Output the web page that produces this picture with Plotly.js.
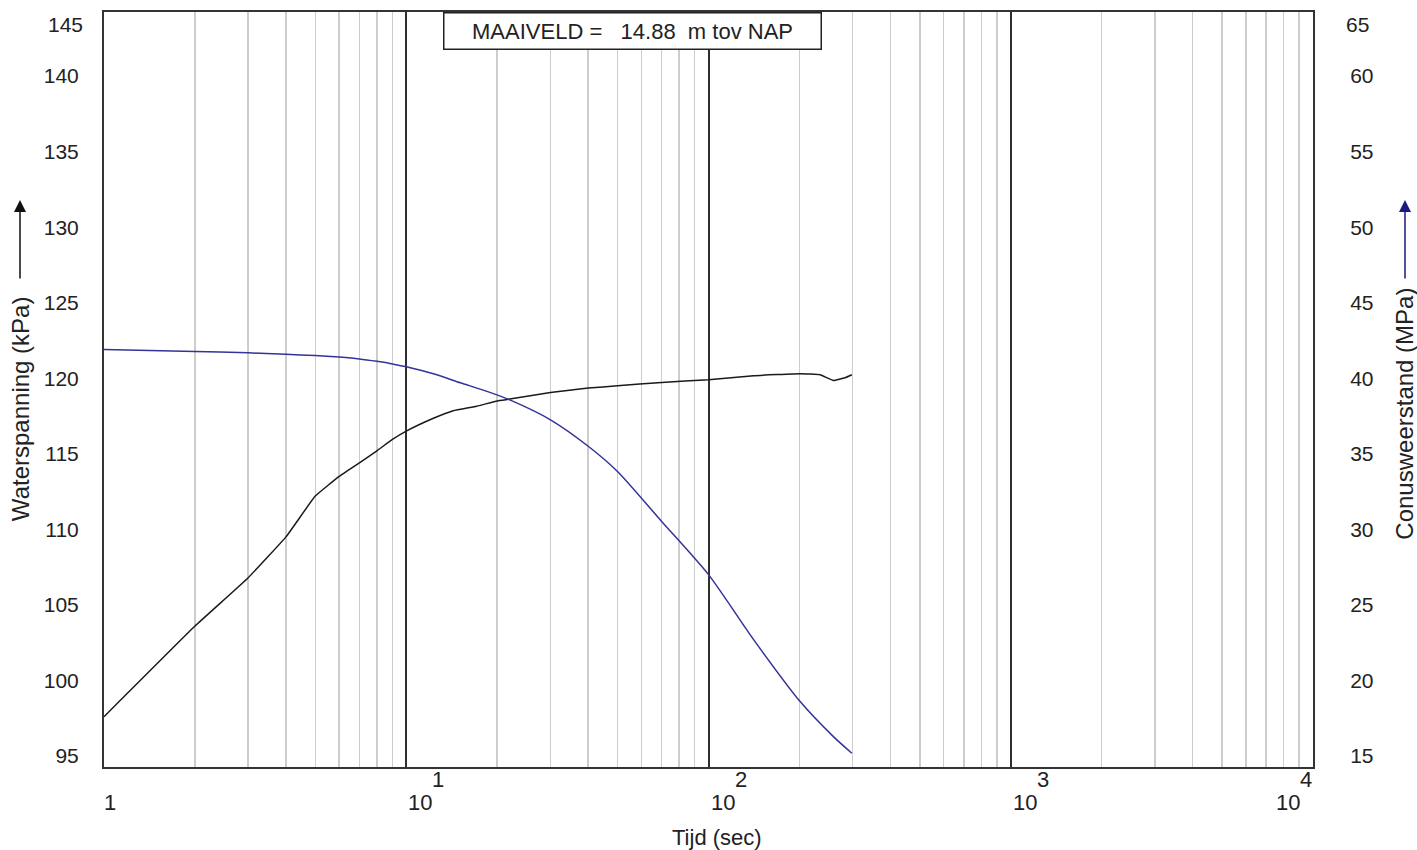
<!DOCTYPE html>
<html>
<head>
<meta charset="utf-8">
<script src="https://cdn.plot.ly/plotly-3.0.1.min.js"></script>
<style>html,body{margin:0;padding:0;background:#fff;}#chart{width:1417px;height:850px;}</style>
</head>
<body>
<div id="chart"></div>
<script>
// ---- data ----
const timeBlack = [1, 2, 3, 4, 5, 6, 7, 8, 9, 10, 12.3, 14.3, 17.1, 20, 22, 30, 40, 50, 70, 100, 141, 201, 234, 259, 283, 298];
const waterspanning = [97.6, 103.6, 106.8, 109.5, 112.2, 113.5, 114.4, 115.2, 115.95, 116.5, 117.35, 117.85, 118.15, 118.5, 118.62, 119.06, 119.35, 119.5, 119.72, 119.9, 120.17, 120.3, 120.23, 119.85, 120.03, 120.23];

const timeBlue = [1, 2, 3, 4, 5, 6, 7, 8, 9, 10, 12.3, 15.1, 18.5, 22.1, 30, 40, 50, 70, 100, 141, 201, 259, 298];
const conusweerstand = [41.9, 41.77, 41.68, 41.58, 41.5, 41.4, 41.28, 41.12, 40.95, 40.76, 40.3, 39.7, 39.13, 38.55, 37.25, 35.5, 33.83, 30.52, 27.0, 22.7, 18.6, 16.28, 15.18];

const leftTicks = [95, 100, 105, 110, 115, 120, 125, 130, 135, 140, 145];
const rightTicks = [15, 20, 25, 30, 35, 40, 45, 50, 55, 60, 65];
const xDecades = [1, 10, 100, 1000, 10000];
const xExponents = ['', '1', '2', '3', '4'];
const maaiveldText = 'MAAIVELD =\u00a0\u00a0\u00a014.88\u00a0\u00a0m tov NAP';

// ---- styling ----
const FONT = '"Liberation Sans", Arial, Helvetica, sans-serif';
const FS = 21;     // y tick labels
const FSX = 22;    // x tick labels, x title, box
const FST = 24;    // y titles
const TXT = '#222';
const NAVY = '#333399';

const yRange = [94.27, 144.24];
const y2Range = [14.27, 64.24];

const minorVals = [];
for (let d = 0; d < xDecades.length - 1; d++) {
  for (let k = 2; k <= 9; k++) minorVals.push(k * xDecades[d]);
}

const traces = [
  {x: timeBlack, y: waterspanning, type: 'scatter', mode: 'lines',
   line: {color: '#1a1a1a', width: 1.5, shape: 'spline', smoothing: 0.3}, yaxis: 'y', hoverinfo: 'skip'},
  {x: timeBlue, y: conusweerstand, type: 'scatter', mode: 'lines',
   line: {color: NAVY, width: 1.5, shape: 'spline', smoothing: 0.7}, yaxis: 'y2', hoverinfo: 'skip'}
];

const annotations = [];
const inLeft = leftTicks.filter(v => v <= yRange[1]);
const outLeft = leftTicks.filter(v => v > yRange[1]);
const inRight = rightTicks.filter(v => v <= y2Range[1]);
const outRight = rightTicks.filter(v => v > y2Range[1]);
outLeft.forEach(v => annotations.push({xref: 'paper', yref: 'paper', x: 0, y: 1, xanchor: 'right', yanchor: 'middle',
  xshift: -19, yshift: -12, text: String(v), showarrow: false, font: {family: FONT, size: FS, color: TXT}}));
outRight.forEach(v => annotations.push({xref: 'paper', yref: 'paper', x: 1, y: 1, xanchor: 'left', yanchor: 'middle',
  xshift: 31, yshift: -12, text: String(v), showarrow: false, font: {family: FONT, size: FS, color: TXT}}));

// x tick labels: base "10" with raised exponent
xDecades.forEach((v, i) => {
  const last = i === xDecades.length - 1;
  const lx = Math.log10(v);
  if (xExponents[i] === '') {
    annotations.push({xref: 'x', yref: 'paper', x: lx, y: 0, xanchor: 'center', yanchor: 'middle',
      xshift: 6, yshift: -35, text: String(v), showarrow: false, font: {family: FONT, size: FSX, color: TXT}});
  } else {
    const base = last ? -25 : 14;
    annotations.push({xref: 'x', yref: 'paper', x: lx, y: 0, xanchor: 'center', yanchor: 'middle',
      xshift: base, yshift: -35, text: '10', showarrow: false, font: {family: FONT, size: FSX, color: TXT}});
    annotations.push({xref: 'x', yref: 'paper', x: lx, y: 0, xanchor: 'center', yanchor: 'middle',
      xshift: base + 18, yshift: -12, text: xExponents[i], showarrow: false, font: {family: FONT, size: FSX, color: TXT}});
  }
});

// axis titles
annotations.push({xref: 'paper', yref: 'paper', x: 0.507, y: 0, xanchor: 'center', yanchor: 'middle',
  yshift: -70, text: 'Tijd (sec)', showarrow: false, font: {family: FONT, size: FSX, color: TXT}});
annotations.push({xref: 'paper', yref: 'paper', x: 0, y: 0.474, xanchor: 'center', yanchor: 'middle',
  xshift: -84, textangle: -90, text: 'Waterspanning (kPa)', showarrow: false, font: {family: FONT, size: FST, color: TXT}});
annotations.push({xref: 'paper', yref: 'paper', x: 1, y: 0.468, xanchor: 'center', yanchor: 'middle',
  xshift: 92, textangle: -90, text: 'Conusweerstand (MPa)', showarrow: false, font: {family: FONT, size: FST, color: TXT}});
// arrows next to the axis titles
annotations.push({xref: 'paper', yref: 'paper', x: 0, y: 0.751, xshift: -84, text: '', showarrow: true,
  ax: 0, ay: 80, arrowhead: 2, arrowsize: 1.6, arrowwidth: 1.5, arrowcolor: '#111', standoff: 0});
annotations.push({xref: 'paper', yref: 'paper', x: 1, y: 0.751, xshift: 92, text: '', showarrow: true,
  ax: 0, ay: 80, arrowhead: 2, arrowsize: 1.6, arrowwidth: 1.5, arrowcolor: '#1a1a80', standoff: 0});

// MAAIVELD box
annotations.push({xref: 'paper', yref: 'paper', x: 0.437, y: 1, xanchor: 'center', yanchor: 'top',
  text: maaiveldText, showarrow: false, bgcolor: '#fff', bordercolor: '#222', borderwidth: 1.5, borderpad: 2,
  width: 372, height: 31, align: 'center', font: {family: FONT, size: FSX, color: TXT}});

const layout = {
  width: 1417, height: 850,
  margin: {l: 104, r: 104, t: 12, b: 83, pad: 0},
  paper_bgcolor: '#fff', plot_bgcolor: '#fff',
  showlegend: false,
  font: {family: FONT, size: FS, color: TXT},
  xaxis: {
    type: 'log', range: [Math.log10(xDecades[0]), Math.log10(xDecades[xDecades.length - 1])],
    tickmode: 'array', tickvals: xDecades.slice(1, -1), showticklabels: false, ticks: '',
    showgrid: true, gridcolor: '#2e2e2e', gridwidth: 2,
    minor: {tickmode: 'array', tickvals: minorVals, showgrid: true, gridcolor: '#cdcdcd', gridwidth: 1.5, ticks: ''},
    showline: true, mirror: true, linecolor: '#333', linewidth: 2, zeroline: false
  },
  yaxis: {
    range: yRange, tickmode: 'array', tickvals: inLeft, ticktext: inLeft.map(String), ticks: '',
    showgrid: false, zeroline: false, showline: true, linecolor: '#333', linewidth: 2,
    ticklabelstandoff: 19, tickfont: {family: FONT, size: FS, color: TXT}
  },
  yaxis2: {
    range: y2Range, overlaying: 'y', side: 'right', tickmode: 'array', tickvals: inRight, ticktext: inRight.map(String), ticks: '',
    showgrid: false, zeroline: false, showline: true, linecolor: '#333', linewidth: 2,
    ticklabelstandoff: 31, tickfont: {family: FONT, size: FS, color: TXT}
  },
  annotations: annotations
};

Plotly.newPlot('chart', traces, layout, {displayModeBar: false, staticPlot: true});
</script>
</body>
</html>
